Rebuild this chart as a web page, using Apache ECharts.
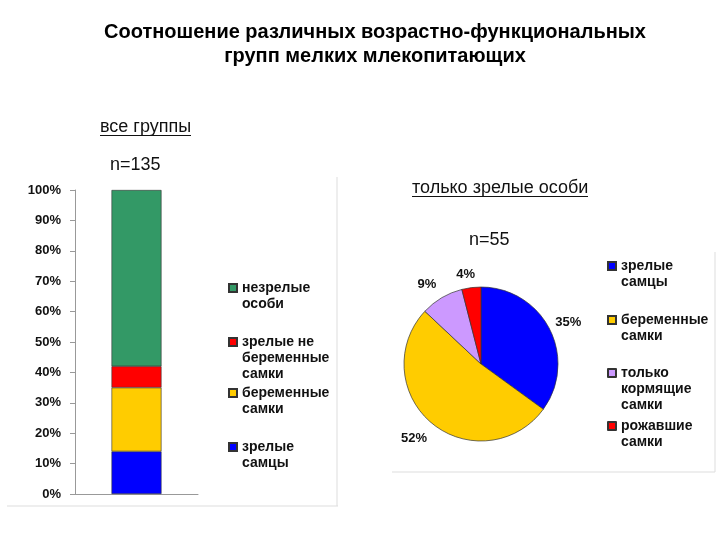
<!DOCTYPE html>
<html><head><meta charset="utf-8">
<script src="https://cdn.jsdelivr.net/npm/echarts@6/dist/echarts.min.js"></script>
<style>html,body{margin:0;padding:0;background:#fff}#c{width:720px;height:540px}</style>
</head><body><div id="c"></div>
<script>
// Bar (all groups, n=135) — stacked from bottom
var barNames = ['зрелые\nсамцы', 'беременные\nсамки', 'зрелые не\nбеременные\nсамки', 'незрелые\nособи'];
var barValues = [14, 21, 7, 58];
var barColors = ['#0000FF', '#FFCC00', '#FF0000', '#339966'];
var yTicks = [0, 10, 20, 30, 40, 50, 60, 70, 80, 90, 100];

// Pie (mature only, n=55)
var pieNames = ['зрелые\nсамцы', 'беременные\nсамки', 'только\nкормящие\nсамки', 'рожавшие\nсамки'];
var pieValues = [35, 52, 9, 4];
var pieColors = ['#0000FF', '#FFCC00', '#CC99FF', '#FF0000'];

var FONT = 'Liberation Sans, Arial, sans-serif';
var chart = echarts.init(document.getElementById('c'));

var series = [];
barNames.forEach(function (n, i) {
  series.push({
    type: 'bar', name: n, stack: 'all', barWidth: 50,
    data: [barValues[i]],
    itemStyle: { color: barColors[i], borderColor: '#333', borderWidth: 0.6 },
    emphasis: { disabled: true }
  });
});
var labelShift = [[-2, -5], [2, 13], [1, -11], [9, -10]];
series.push({
  type: 'pie', center: [481, 364], radius: 77, startAngle: 90, clockwise: true,
  data: pieNames.map(function (n, i) {
    return { name: n, value: pieValues[i], itemStyle: { color: pieColors[i] } };
  }),
  itemStyle: { borderColor: '#333', borderWidth: 0.7 },
  label: { show: true, position: 'outside', formatter: '{c}%', fontFamily: FONT, fontWeight: 'bold', fontSize: 13, color: '#111' },
  labelLine: { show: false, length: 3, length2: 0 },
  labelLayout: function (p) { var s = labelShift[p.dataIndex]; return { dx: s[0], dy: s[1] }; },
  avoidLabelOverlap: false,
  emphasis: { disabled: true }
});

function legendFor(name, left, iconY, nLines) {
  var lh = 16;
  return {
    data: [name], left: left, top: iconY - (2 * nLines - 1) * lh / 2,
    orient: 'vertical', padding: 0, itemWidth: 8, itemHeight: 8, icon: 'rect',
    selectedMode: false,
    formatter: function (nm) { return new Array(nLines).join('\n') + nm; },
    textStyle: { fontFamily: FONT, fontWeight: 'bold', fontSize: 14, color: '#111', lineHeight: lh }
  };
}
var legends = [
  legendFor(barNames[3], 228, 288, 2),
  legendFor(barNames[2], 228, 342, 3),
  legendFor(barNames[1], 228, 393, 2),
  legendFor(barNames[0], 228, 447, 2),
  legendFor(pieNames[0], 607, 266, 2),
  legendFor(pieNames[1], 607, 320, 2),
  legendFor(pieNames[2], 607, 373, 3),
  legendFor(pieNames[3], 607, 426, 2)
];

chart.setOption({
  animation: false,
  title: {
    text: 'Соотношение различных возрастно-функциональных\nгрупп мелких млекопитающих',
    left: 370, top: 15, textAlign: 'center',
    textStyle: { fontFamily: FONT, fontWeight: 'bold', fontSize: 20, lineHeight: 24, color: '#000' }
  },
  legend: legends,
  grid: { left: 75, top: 190, width: 123, height: 304 },
  xAxis: {
    type: 'category', data: [''],
    axisLine: { lineStyle: { color: '#999', width: 1 } },
    axisTick: { show: false }, axisLabel: { show: false }
  },
  yAxis: {
    type: 'value', min: yTicks[0], max: yTicks[yTicks.length - 1], interval: 10,
    axisLine: { show: true, lineStyle: { color: '#999', width: 1 } },
    axisTick: { show: true, length: 5, lineStyle: { color: '#999' } },
    splitLine: { show: false },
    axisLabel: { formatter: '{value}%', margin: 14, fontFamily: FONT, fontWeight: 'bold', fontSize: 13, color: '#111' }
  },
  series: series,
  graphic: [
    { type: 'line', shape: { x1: 337, y1: 177, x2: 337, y2: 506 }, style: { stroke: '#ddd', lineWidth: 1 }, z: 0 },
    { type: 'line', shape: { x1: 7, y1: 506, x2: 338, y2: 506 }, style: { stroke: '#ddd', lineWidth: 1 }, z: 0 },
    { type: 'line', shape: { x1: 715, y1: 252, x2: 715, y2: 472 }, style: { stroke: '#ddd', lineWidth: 1 }, z: 0 },
    { type: 'line', shape: { x1: 392, y1: 472, x2: 715, y2: 472 }, style: { stroke: '#ddd', lineWidth: 1 }, z: 0 },
    { type: 'text', x: 100, y: 127, style: { text: 'все группы', font: '18px ' + FONT, fill: '#111', verticalAlign: 'middle' } },
    { type: 'line', shape: { x1: 100, y1: 135.5, x2: 191, y2: 135.5 }, style: { stroke: '#111', lineWidth: 1 } },
    { type: 'text', x: 110, y: 165, style: { text: 'n=135', font: '18px ' + FONT, fill: '#111', verticalAlign: 'middle' } },
    { type: 'text', x: 412, y: 188, style: { text: 'только зрелые особи', font: '18px ' + FONT, fill: '#111', verticalAlign: 'middle' } },
    { type: 'line', shape: { x1: 412, y1: 196.5, x2: 588, y2: 196.5 }, style: { stroke: '#111', lineWidth: 1 } },
    { type: 'text', x: 469, y: 240, style: { text: 'n=55', font: '18px ' + FONT, fill: '#111', verticalAlign: 'middle' } }
  ]
});
</script></body></html>
